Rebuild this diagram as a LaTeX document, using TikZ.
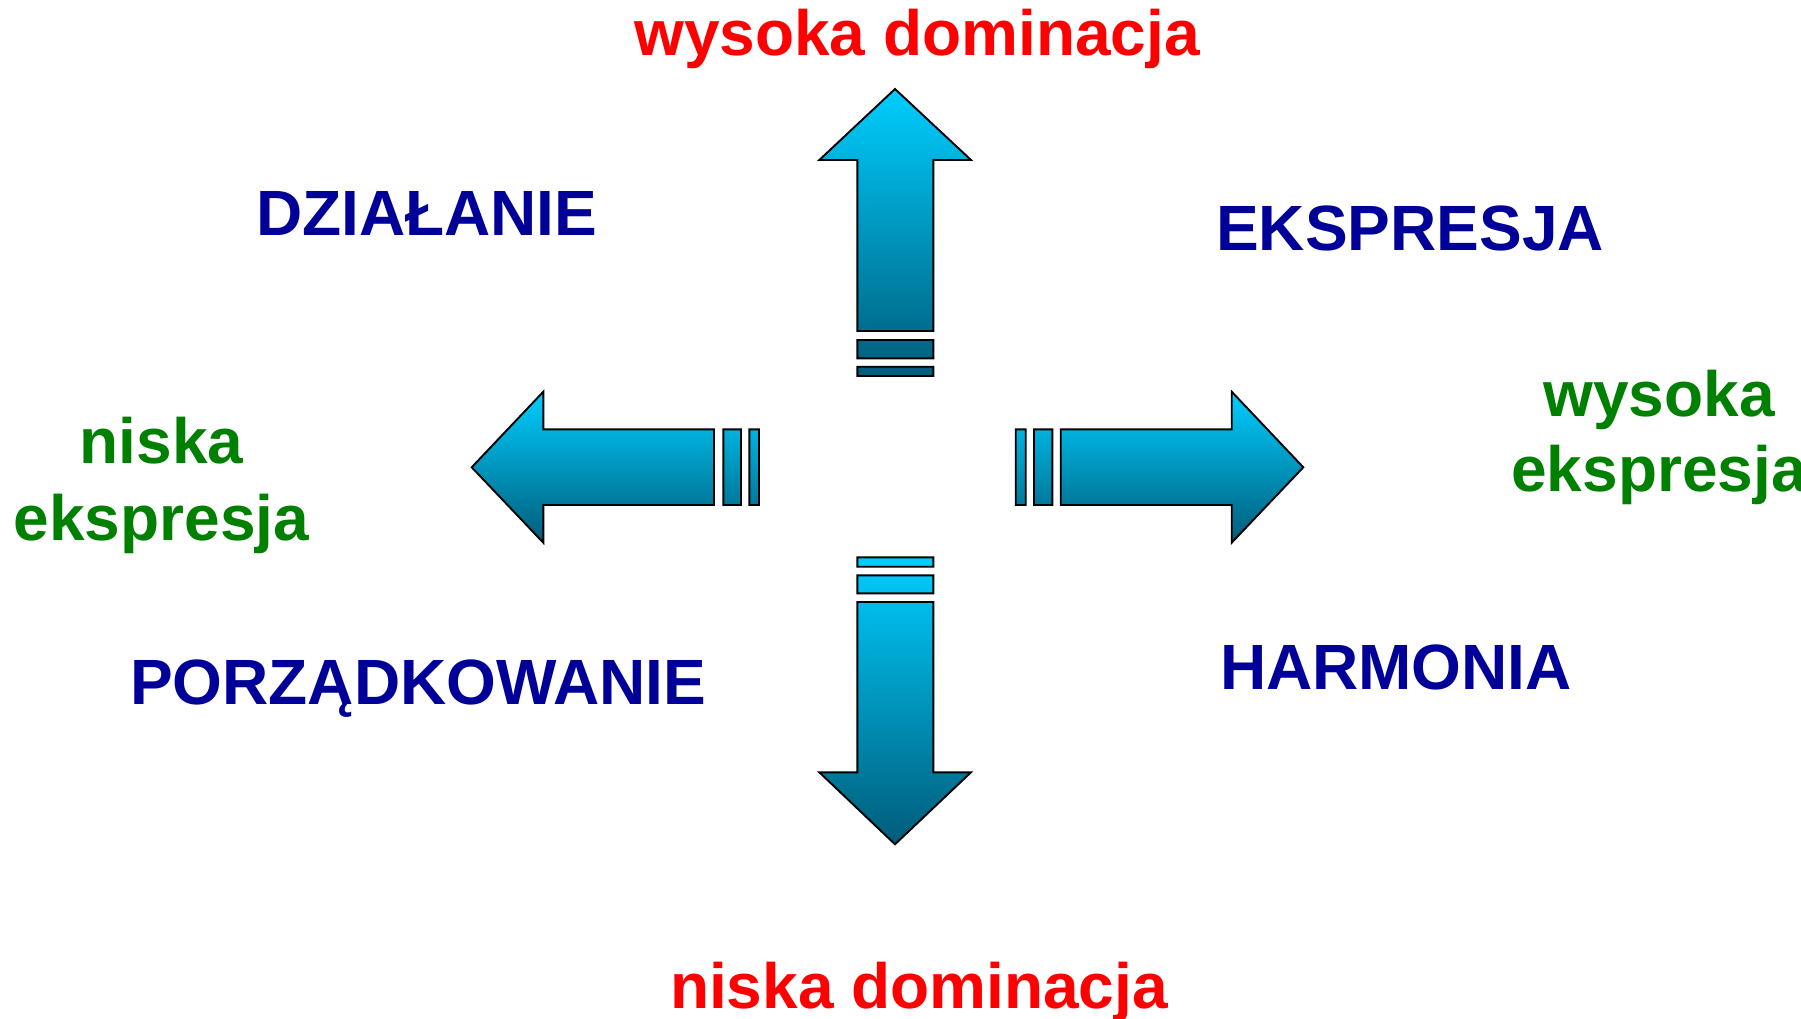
\documentclass[tikz,border=0pt]{standalone}
\usepackage{fontspec}
\setmainfont{Liberation Sans}

\definecolor{axisred}{RGB}{255,0,0}
\definecolor{polegreen}{RGB}{0,128,0}
\definecolor{quadblue}{RGB}{0,0,153}
\definecolor{arrowlight}{RGB}{0,206,255}
\definecolor{arrowdark}{RGB}{0,92,122}

\begin{document}
\begin{tikzpicture}[x=1pt,y=-1pt,
  lbl/.style={font=\fontsize{64}{75}\selectfont\bfseries, inner sep=0pt, anchor=base},
  axislbl/.style={lbl, text=axisred},
  polelbl/.style={lbl, text=polegreen},
  quadlbl/.style={lbl, text=quadblue},
  arrowbody/.style={draw=black, line width=1.9pt, line join=miter,
    top color=arrowlight, bottom color=arrowdark}]

\useasboundingbox (0,0) rectangle (1801,1019);

% upward arrow with its two bars
\path[arrowbody]
  (895,89) -- (971,160) -- (933.3,160) -- (933.3,331) -- (857.3,331)
  -- (857.3,160) -- (819.3,160) -- cycle
  (857.3,340) rectangle (933.3,358.3)
  (857.3,366.7) rectangle (933.3,376);

% downward arrow with its two bars
\path[arrowbody]
  (857.3,557.3) rectangle (933.3,566.7)
  (857.3,575.3) rectangle (933.3,593.3)
  (857.3,602) -- (933.3,602) -- (933.3,772.3) -- (971,772.3)
  -- (895,844.3) -- (819.3,772.3) -- (857.3,772.3) -- cycle;

% leftward arrow with its two bars
\path[arrowbody]
  (471.7,467.3) -- (543.3,391.7) -- (543.3,429.3) -- (714,429.3)
  -- (714,505) -- (543.3,505) -- (543.3,542.7) -- cycle
  (723.3,429.3) rectangle (741,505)
  (749.3,429.3) rectangle (759,505);

% rightward arrow with its two bars
\path[arrowbody]
  (1015.7,429.3) rectangle (1025.7,505)
  (1034,429.3) rectangle (1052.3,505)
  (1060.7,429.3) -- (1231.7,429.3) -- (1231.7,391.7) -- (1303.3,467.3)
  -- (1231.7,542.7) -- (1231.7,505) -- (1060.7,505) -- cycle;

% axis ends
\node[axislbl] (highdom) at (917,56) {wysoka dominacja};
\node[axislbl] (lowdom) at (919,1008) {niska dominacja};

\node[polelbl] (lowexp) at (161.5,463.3)
  {\fontsize{64}{77}\selectfont\begin{tabular}[t]{@{}c@{}}niska\\ekspresja\end{tabular}};
\node[polelbl] (highexp) at (1659,416)
  {\fontsize{64}{75}\selectfont\begin{tabular}[t]{@{}c@{}}wysoka\\ekspresja\end{tabular}};

% quadrant names
\node[quadlbl] (action) at (426.7,235.7) {DZIAŁANIE};
\node[quadlbl] (expression) at (1410,250.7) {EKSPRESJA};
\node[quadlbl] (ordering) at (418,704) {PORZĄDKOWANIE};
\node[quadlbl] (harmony) at (1396,689.3) {HARMONIA};
\end{tikzpicture}
\end{document}
